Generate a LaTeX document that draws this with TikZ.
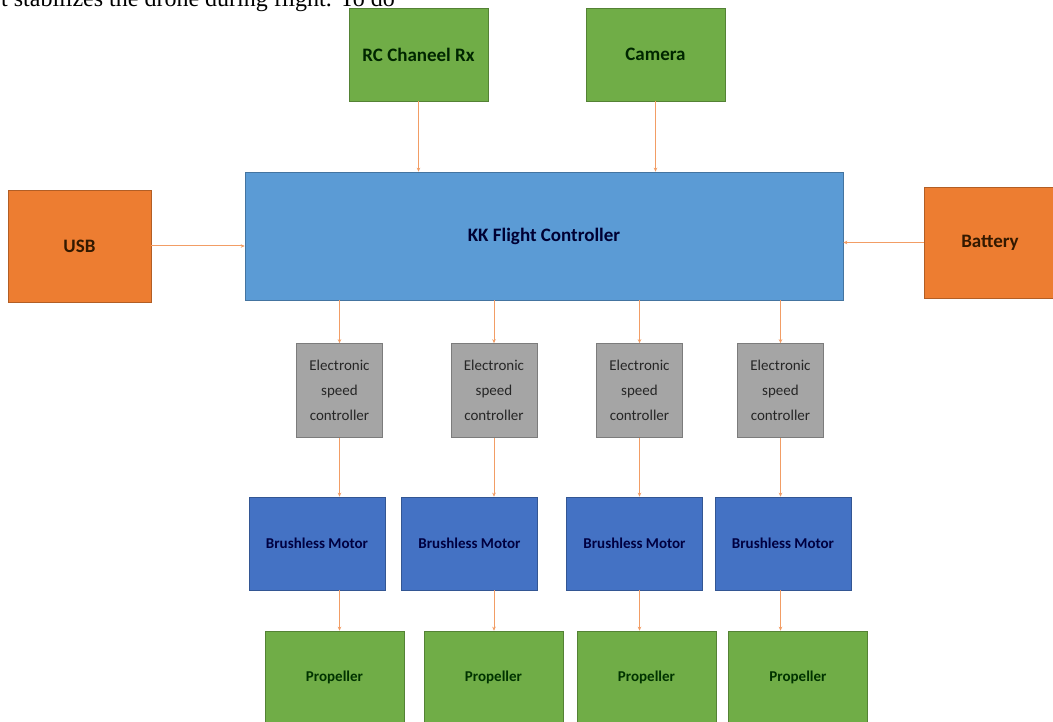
\documentclass[tikz,border=0pt]{standalone}
\usepackage{fontspec}
\setmainfont{Carlito}
\newfontfamily\serifbody{Liberation Serif}
\usetikzlibrary{arrows.meta}

\definecolor{boxgreen}{HTML}{70AD47}
\definecolor{boxblue}{HTML}{5B9BD5}
\definecolor{boxorange}{HTML}{ED7D31}
\definecolor{boxgray}{HTML}{A5A5A5}
\definecolor{motorblue}{HTML}{4472C4}

\begin{document}
\begin{tikzpicture}[x=1pt,y=-1pt,
  blk/.style={fill=#1,draw=#1!75!black,line width=0.6pt,inner sep=0pt,align=center},
  big/.style={font=\bfseries\fontsize{19}{22}\selectfont},
  small/.style={font=\bfseries\fontsize{15}{18}\selectfont},
  link/.style={draw=boxorange!75!white,line width=1pt,-{Stealth[length=4pt,width=3.5pt]}}]
  \clip (0,0) rectangle (1053,722);
  \fill[white] (0,0) rectangle (1053,722);
  \node[anchor=base west,inner sep=0pt,font=\serifbody\fontsize{24}{24}\selectfont] (intro) at (1,7)
    {t stabilizes the drone during flight. To do};
  \node[blk=boxgreen,big,text=black!85!green,minimum width=139,minimum height=93] (rc) at (418.5,54.5) {RC Chaneel Rx};
  \node[blk=boxgreen,big,text=black!85!green,minimum width=139,minimum height=93] (cam) at (655.5,54.5) {Camera};
  \node[blk=boxblue,big,text=black!80!blue,minimum width=598,minimum height=128] (kk) at (544,236) {KK Flight Controller};
  \node[blk=boxorange,big,text=black!80!orange,minimum width=143,minimum height=112] (usb) at (79.5,246) {USB};
  \node[blk=boxorange,big,text=black!80!orange,minimum width=132,minimum height=111] (bat) at (990,242.5) {Battery};
  \draw[link] (rc.south) -- (rc.south |- kk.north);
  \draw[link] (cam.south) -- (cam.south |- kk.north);
  \draw[link] (usb.east) -- (usb.east -| kk.west);
  \draw[link] (bat.west) -- (bat.west -| kk.east);
  \foreach \i/\ex/\mx/\px in {1/339.5/317/334.5,2/494/469.5/493.5,3/639.5/634.5/646.5,4/780.5/783/798} {
    \node[blk=boxgray,text=black!85,font=\fontsize{15}{25}\selectfont,minimum width=86,minimum height=94] (esc\i) at (\ex,390.5)
      {Electronic\\speed\\controller};
    \node[blk=motorblue,small,text=black!75!blue,minimum width=136,minimum height=93] (mot\i) at (\mx,543.5) {Brushless Motor};
    \node[blk=boxgreen,small,text=black!80!green,minimum width=139,minimum height=93] (prop\i) at (\px,677.5) {Propeller};
    \draw[link] (kk.south -| esc\i.north) -- (esc\i.north);
    \draw[link] (esc\i.south) -- (esc\i.south |- mot\i.north);
    \draw[link] (mot\i.south -| esc\i.south) -- (prop\i.north -| esc\i.south);
  }
\end{tikzpicture}
\end{document}
